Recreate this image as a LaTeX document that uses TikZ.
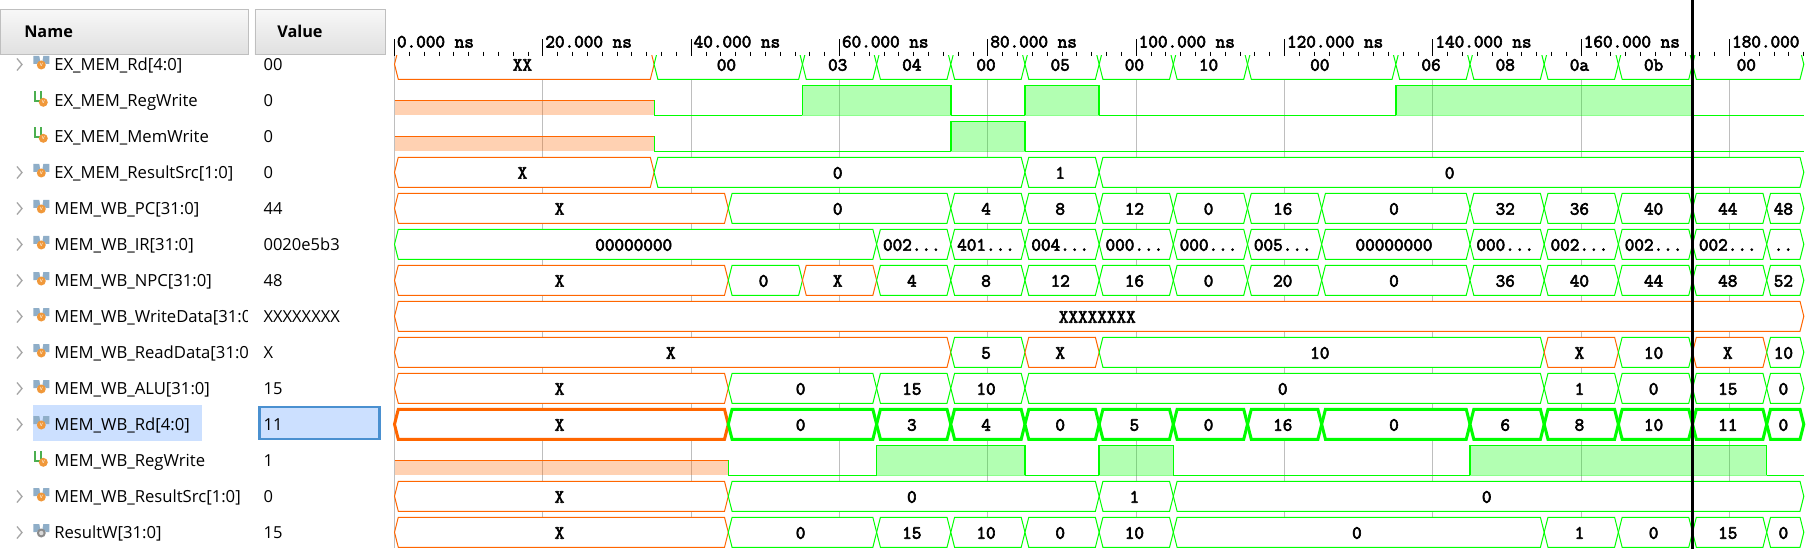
\documentclass[tikz,border=0pt]{standalone}
\usepackage{fontspec}
\setmainfont{Open Sans}
\newfontfamily\wavefont[FakeBold=3.2]{Latin Modern Mono}
\usetikzlibrary{positioning}

\definecolor{waveok}{HTML}{00FF00}
\definecolor{wavex}{HTML}{FF6600}
\definecolor{gridgray}{HTML}{BEBEBE}
\definecolor{selblue}{HTML}{CCE0FF}
\definecolor{selborder}{HTML}{4A90D0}
\definecolor{ribbon}{HTML}{8FAEC8}
\definecolor{bitgreen}{HTML}{4CAF50}
\definecolor{medal}{HTML}{F0983A}

\newcommand{\trunc}{...}
% one row of a bus: hexagons with their values
\newcommand{\busrow}[3][]{%
  \pgfmathsetmacro{\yc}{64.3+36*#2}
  \foreach \ta/\tb/\txt/\col in {#3} {
    \draw[busline,#1,draw=\col] (\ta,\yc) -- ({\ta+.51},\yc-15) -- ({\tb-.51},\yc-15)
      -- (\tb,\yc) -- ({\tb-.51},\yc+15) -- ({\ta+.51},\yc+15) -- cycle;
    \node[wavetext] (wave#2-\ta) at ({(\ta+\tb)/2-.25},\yc+6.4) {\txt};
  }
}
% one row of a single bit: X part, high parts, low parts
\newcommand{\bitrow}[4]{%
  \pgfmathsetmacro{\yc}{64.3+36*#1}
  \fill[wavex,fill opacity=.3] (0,\yc) rectangle (#2,\yc+15);
  \draw[bitline,draw=wavex] (0,\yc) -- (#2,\yc);
  \draw[lowline] (#2,\yc) -- (#2,\yc+15);
  \foreach \ta/\tb in {#3} {
    \fill[waveok,fill opacity=.3] (\ta,\yc-15) rectangle (\tb,\yc+15);
    \draw[waveok,opacity=.45] (\ta,\yc+15) -- (\tb,\yc+15);
    \draw[bitline] (\ta,\yc+15) -- (\ta,\yc-15) -- (\tb,\yc-15) -- (\tb,\yc+15);
  }
  \foreach \ta/\tb in {#4} {
    \draw[lowline] (\ta,\yc+15) -- (\tb,\yc+15);
  }
}

\begin{document}
\begin{tikzpicture}[
        x=0.75pt, y=-0.75pt,
        headbox/.style={
            rectangle, draw=black!25, top color=black!3, bottom color=black!12,
            anchor=north west, minimum height=33.75pt, inner sep=0pt
        },
        headtext/.style={anchor=base west, inner sep=0pt, font=\fontsize{12.2}{14}\selectfont\bfseries},
        signame/.style={anchor=base west, inner sep=0pt, font=\fontsize{12.5}{14}\selectfont},
        sigvalue/.style={anchor=base west, inner sep=0pt, font=\fontsize{12.4}{14}\selectfont},
        wavetext/.style={anchor=base, inner sep=0pt, font=\fontsize{14}{15}\selectfont\wavefont},
        rulertext/.style={anchor=base west, inner sep=0pt, font=\fontsize{14}{15}\selectfont\wavefont},
        busline/.style={fill=white, line width=0.75pt, line join=miter},
        boldbus/.style={line width=2.25pt},
        bitline/.style={draw=waveok, line width=1.1pt},
        lowline/.style={draw=waveok, line width=0.85pt},
        gridline/.style={draw=gridgray, line width=0.75pt},
        tick/.style={draw=black, line width=0.75pt},
        chevron/.style={draw=black!35, line width=1pt},
        busicon/.pic={
            \fill[ribbon] (-8,-9) -- (-2,-9) -- (-1,-3) -- (-5,-1) -- (-8,-1) -- cycle;
            \fill[ribbon] (8,-9) -- (2,-9) -- (1,-3) -- (5,-1) -- (8,-1) -- cycle;
            \fill[medal] (0,0) circle (4.5);
            \node[inner sep=0pt, text=white, font=\fontsize{4.5}{5}\selectfont] (-v) at (0,0) {v};
        },
        bitsicon/.pic={
            \draw[bitgreen, line width=1.3pt] (-8,-11) -- (-8,-1) -- (-2.5,-1) -- (-2.5,-11);
            \fill[medal] (0,0) circle (4.5);
            \node[inner sep=0pt, text=white, font=\fontsize{4.5}{5}\selectfont] (-v) at (0,0) {v};
        },
        wireicon/.pic={
            \fill[ribbon] (-8,-9) -- (-2,-9) -- (-1,-3) -- (-5,-1) -- (-8,-1) -- cycle;
            \fill[ribbon] (8,-9) -- (2,-9) -- (1,-3) -- (5,-1) -- (8,-1) -- cycle;
            \fill[black!45] (0,0) circle (4.5);
            \fill[black!15] (0,0) circle (2.2);
        }
    ]
    \useasboundingbox (0,0) rectangle (1807,556);

    % Selected row
    \fill[selblue] (33,405) rectangle (202,441);
    \draw[fill=selblue, draw=selborder, line width=2pt] (259.5,407) rectangle (379.5,439);

    % Names and values
    \begin{scope}
        \clip (0,0) rectangle (247.6,556);
        \foreach \r/\sname in {
            0/EX\_MEM\_Rd[4:0], 1/EX\_MEM\_RegWrite, 2/EX\_MEM\_MemWrite,
            3/EX\_MEM\_ResultSrc[1:0], 4/MEM\_WB\_PC[31:0], 5/MEM\_WB\_IR[31:0],
            6/MEM\_WB\_NPC[31:0], 7/MEM\_WB\_WriteData[31:0], 8/MEM\_WB\_ReadData[31:0],
            9/MEM\_WB\_ALU[31:0], 10/MEM\_WB\_Rd[4:0], 11/MEM\_WB\_RegWrite,
            12/MEM\_WB\_ResultSrc[1:0], 13/ResultW[31:0]} {
            \node[signame] (sig\r) at (54,{70.5+36*\r}) {\sname};
        }
    \end{scope}
    \foreach \r/\sval in {0/00, 1/0, 2/0, 3/0, 4/44, 5/0020e5b3, 6/48, 7/XXXXXXXX, 8/X,
            9/15, 10/11, 11/1, 12/0, 13/15} {
        \node[sigvalue] (val\r) at (263.3,{70.5+36*\r}) {\sval};
    }

    % Icons
    \foreach \r in {0,3,4,5,6,7,8,9,10,12,13} {
        \draw[chevron] (17,{58.5+36*\r}) -- (22,{64.5+36*\r}) -- (17,{70.5+36*\r});
    }
    \foreach \r in {0,3,4,5,6,7,8,9,10,12} {
        \pic (bus\r) at (41.3,{65+36*\r}) {busicon};
    }
    \foreach \r in {1,2,11} {
        \pic (bit\r) at (43.3,{102.3+36*(\r-1)}) {bitsicon};
    }
    \pic (wire13) at (41.3,533) {wireicon};

    % Headers
    \node[headbox, minimum width=185.7pt] (namehead) at (0,9.3) {};
    \node[headbox, minimum width=97.6pt] (valuehead) at (254.5,9.3) {};
    \node[headtext] (nametext) at (24,38) {Name};
    \node[headtext] (valuetext) at (277,38) {Value};

    % Wave area, x in ns from here on
    \begin{scope}[shift={(394.5,0)}, x=5.563pt]
        \foreach \t in {0,20,40,60,80,100,120,140,160,180} {
            \draw[gridline] (\t,56) -- (\t,548);
        }
        \begin{scope}
            \clip (-1,56) rectangle (192,556);
            \busrow{0}{0/35/XX/wavex, 35/55/00/waveok, 55/65/03/waveok, 65/75/04/waveok, 75/85/00/waveok,
                85/95/05/waveok, 95/105/00/waveok, 105/115/10/waveok, 115/135/00/waveok, 135/145/06/waveok,
                145/155/08/waveok, 155/165/0a/waveok, 165/175/0b/waveok, 175/190/00/waveok}
            \bitrow{1}{35}{55/75, 85/95, 135/175}{35/55, 75/85, 95/135, 175/190}
            \bitrow{2}{35}{75/85}{35/75, 85/190}
            \busrow{3}{0/35/X/wavex, 35/85/0/waveok, 85/95/1/waveok, 95/190/0/waveok}
            \busrow{4}{0/45/X/wavex, 45/75/0/waveok, 75/85/4/waveok, 85/95/8/waveok, 95/105/12/waveok,
                105/115/0/waveok, 115/125/16/waveok, 125/145/0/waveok, 145/155/32/waveok, 155/165/36/waveok,
                165/175/40/waveok, 175/185/44/waveok, 185/190/48/waveok}
            \busrow{5}{0/65/00000000/waveok, 65/75/002\trunc/waveok, 75/85/401\trunc/waveok, 85/95/004\trunc/waveok,
                95/105/000\trunc/waveok, 105/115/000\trunc/waveok, 115/125/005\trunc/waveok, 125/145/00000000/waveok,
                145/155/000\trunc/waveok, 155/165/002\trunc/waveok, 165/175/002\trunc/waveok, 175/185/002\trunc/waveok,
                185/190/../waveok}
            \busrow{6}{0/45/X/wavex, 45/55/0/waveok, 55/65/X/wavex, 65/75/4/waveok, 75/85/8/waveok, 85/95/12/waveok,
                95/105/16/waveok, 105/115/0/waveok, 115/125/20/waveok, 125/145/0/waveok, 145/155/36/waveok,
                155/165/40/waveok, 165/175/44/waveok, 175/185/48/waveok, 185/190/52/waveok}
            \busrow{7}{0/190/XXXXXXXX/wavex}
            \busrow{8}{0/75/X/wavex, 75/85/5/waveok, 85/95/X/wavex, 95/155/10/waveok, 155/165/X/wavex,
                165/175/10/waveok, 175/185/X/wavex, 185/190/10/waveok}
            \busrow{9}{0/45/X/wavex, 45/65/0/waveok, 65/75/15/waveok, 75/85/10/waveok, 85/155/0/waveok,
                155/165/1/waveok, 165/175/0/waveok, 175/185/15/waveok, 185/190/0/waveok}
            \busrow[boldbus]{10}{0/45/X/wavex, 45/65/0/waveok, 65/75/3/waveok, 75/85/4/waveok, 85/95/0/waveok,
                95/105/5/waveok, 105/115/0/waveok, 115/125/16/waveok, 125/145/0/waveok, 145/155/6/waveok,
                155/165/8/waveok, 165/175/10/waveok, 175/185/11/waveok, 185/190/0/waveok}
            \bitrow{11}{45}{65/85, 95/105, 145/185}{45/65, 85/95, 105/145, 185/190}
            \busrow{12}{0/45/X/wavex, 45/95/0/waveok, 95/105/1/waveok, 105/190/0/waveok}
            \busrow{13}{0/45/X/wavex, 45/65/0/waveok, 65/75/15/waveok, 75/85/10/waveok, 85/95/0/waveok,
                95/105/10/waveok, 105/155/0/waveok, 155/165/1/waveok, 165/175/0/waveok, 175/185/15/waveok,
                185/190/0/waveok}
        \end{scope}

        % Ruler
        \foreach \t in {2,4,6,8,12,14,16,18} {
            \foreach \b in {0,20,40,60,80,100,120,140,160} {
                \draw[tick] ({\b+\t},51.7) -- ({\b+\t},55.7);
            }
        }
        \foreach \t in {10,30,50,70,90,110,130,150,170,182,184,186,188,190} {
            \draw[tick] (\t,51.7) -- (\t,55.7);
        }
        \foreach \t/\rlabel in {0/0.000 ns, 20/20.000 ns, 40/40.000 ns, 60/60.000 ns, 80/80.000 ns,
                100/100.000 ns, 120/120.000 ns, 140/140.000 ns, 160/160.000 ns, 180/180.000} {
            \draw[tick] (\t,39.3) -- (\t,55.7);
            \node[rulertext] (time\t) at ({\t+.3},47.5) {\rlabel};
        }

        % Cursor
        \draw[black, line width=2.25pt] (175,0) -- (175,549);
    \end{scope}
\end{tikzpicture}
\end{document}
